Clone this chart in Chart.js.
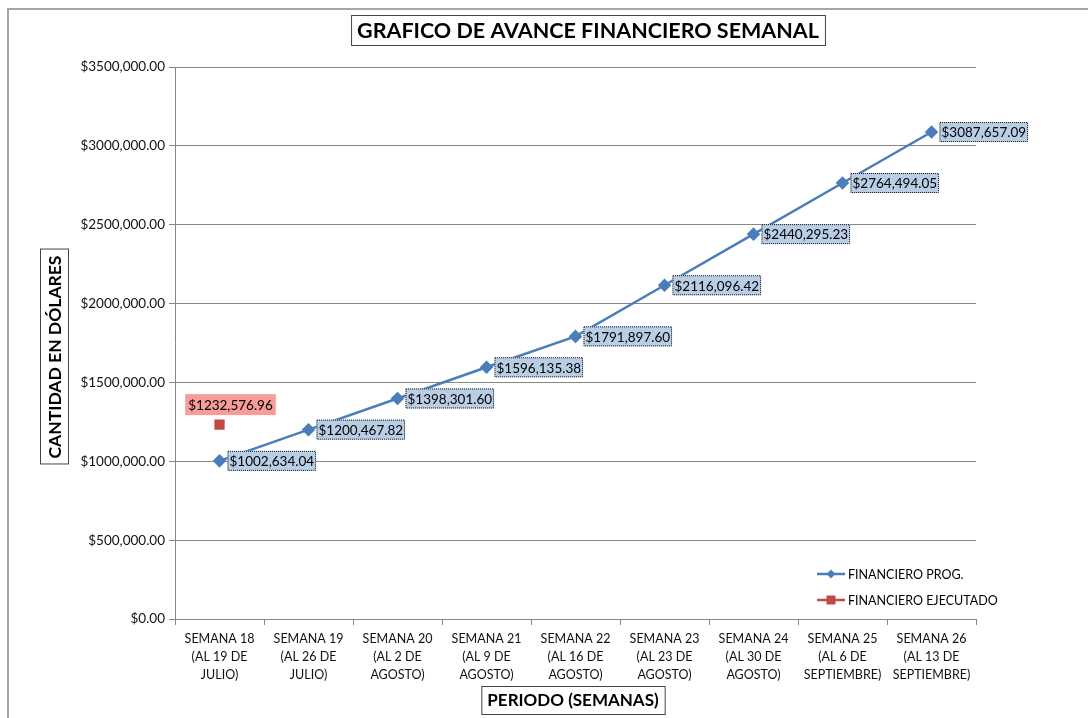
<!DOCTYPE html>
<html>
<head>
<meta charset="utf-8">
<script src="https://cdn.jsdelivr.net/npm/chart.js@4.4.1/dist/chart.umd.min.js"></script>
<style>
  html, body { margin: 0; padding: 0; background: #fff; overflow: hidden; }
  #wrap { position: relative; width: 1088px; height: 718px; overflow: hidden; }
  #frame { position: absolute; left: 7px; top: 8px; width: 1200px; height: 800px; border: 2px solid #a6a6a6; box-sizing: border-box; pointer-events: none; }
</style>
</head>
<body>
<div id="wrap">
  <canvas id="grafico" width="1088" height="718"></canvas>
  <div id="frame"></div>
</div>
<script>
// Datos
const semanas = [
    ['SEMANA 18', '(AL 19 DE', 'JULIO)'],
    ['SEMANA 19', '(AL 26 DE', 'JULIO)'],
    ['SEMANA 20', '(AL 2 DE', 'AGOSTO)'],
    ['SEMANA 21', '(AL 9 DE', 'AGOSTO)'],
    ['SEMANA 22', '(AL 16 DE', 'AGOSTO)'],
    ['SEMANA 23', '(AL 23 DE', 'AGOSTO)'],
    ['SEMANA 24', '(AL 30 DE', 'AGOSTO)'],
    ['SEMANA 25', '(AL 6 DE', 'SEPTIEMBRE)'],
    ['SEMANA 26', '(AL 13 DE', 'SEPTIEMBRE)']
];
const financieroProg = [1002634.04, 1200467.82, 1398301.60, 1596135.38, 1791897.60, 2116096.42, 2440295.23, 2764494.05, 3087657.09];
const financieroEjecutado = [1232576.96, null, null, null, null, null, null, null, null];

const titulo = 'GRAFICO DE AVANCE FINANCIERO SEMANAL';
const tituloY = 'CANTIDAD EN DÓLARES';
const tituloX = 'PERIODO (SEMANAS)';

const FUENTE = 'Lato, "Open Sans", sans-serif';

// formato tipo "$3500,000.00"
function dinero(v) {
    if (v === 0) return '$0.00';
    const miles = Math.floor(v / 1000);
    const resto = v - miles * 1000;
    let r = resto.toFixed(2);
    while (r.length < 6) r = '0' + r;
    return '$' + (miles > 0 ? miles + ',' + r : resto.toFixed(2));
}

function cajaTexto(ctx, txt, x, y, opts) {
    ctx.save();
    ctx.font = opts.font;
    const w = ctx.measureText(txt).width + opts.padX * 2;
    const h = opts.h;
    let bx = opts.align === 'left' ? x : x - w / 2;
    let by = y - h / 2;
    ctx.fillStyle = opts.bg;
    ctx.fillRect(bx, by, w, h);
    if (opts.border) {
        ctx.strokeStyle = opts.border;
        ctx.lineWidth = 1;
        if (opts.dash) ctx.setLineDash(opts.dash);
        ctx.strokeRect(bx + 0.5, by + 0.5, w - 1, h - 1);
    }
    ctx.fillStyle = opts.color || '#000';
    ctx.textBaseline = 'middle';
    ctx.textAlign = 'left';
    ctx.fillText(txt, bx + opts.padX, y + 1);
    ctx.restore();
}

const extras = {
    id: 'extras',
    afterDatasetsDraw(chart) {
        const ctx = chart.ctx;
        // etiquetas de datos azules
        const m0 = chart.getDatasetMeta(0);
        m0.data.forEach((p, i) => {
            cajaTexto(ctx, dinero(financieroProg[i]), p.x + 8, p.y, {
                font: '13.5px ' + FUENTE, padX: 2, h: 20, bg: '#b9cde5', border: '#1a1a1a', dash: [1, 1], align: 'left'
            });
        });
        // etiqueta roja
        const m1 = chart.getDatasetMeta(1);
        m1.data.forEach((p, i) => {
            if (financieroEjecutado[i] == null) return;
            cajaTexto(ctx, dinero(financieroEjecutado[i]), p.x + 11, p.y - 20, {
                font: '13.5px ' + FUENTE, padX: 3, h: 21, bg: '#f79b9b', align: 'center'
            });
        });
        // leyenda
        ctx.save();
        ctx.font = '12.5px ' + FUENTE;
        ctx.textBaseline = 'middle';
        const items = [
            { txt: 'FINANCIERO PROG.', color: '#4a7ebb', forma: 'diamante', y: 574 },
            { txt: 'FINANCIERO EJECUTADO', color: '#be4b48', forma: 'cuadro', y: 600 }
        ];
        items.forEach(it => {
            ctx.strokeStyle = it.color;
            ctx.lineWidth = 2.5;
            ctx.beginPath(); ctx.moveTo(817, it.y); ctx.lineTo(845, it.y); ctx.stroke();
            ctx.fillStyle = it.color;
            ctx.beginPath();
            if (it.forma === 'diamante') {
                ctx.moveTo(831, it.y - 4.5); ctx.lineTo(835.5, it.y); ctx.lineTo(831, it.y + 4.5); ctx.lineTo(826.5, it.y); ctx.closePath();
            } else {
                ctx.rect(826.5, it.y - 4.5, 9, 9);
            }
            ctx.fill();
            ctx.fillStyle = '#000';
            ctx.fillText(it.txt, 848, it.y + 1);
        });
        ctx.restore();
    },
    afterDraw(chart) {
        const ctx = chart.ctx;
        ctx.save();
        ctx.textBaseline = 'middle';
        ctx.textAlign = 'center';
        ctx.strokeStyle = '#444';
        ctx.lineWidth = 1;
        ctx.fillStyle = '#000';
        // titulo principal
        ctx.font = 'bold 21.5px ' + FUENTE;
        let w = ctx.measureText(titulo).width;
        ctx.strokeRect(588 - w / 2 - 6 + 0.5, 15.5, w + 12, 30);
        ctx.fillText(titulo, 588, 31);
        // titulo eje x
        ctx.font = 'bold 17px ' + FUENTE;
        w = ctx.measureText(tituloX).width;
        ctx.strokeRect(573 - w / 2 - 6 + 0.5, 686.5, w + 12, 28);
        ctx.fillText(tituloX, 573, 701);
        // titulo eje y
        ctx.translate(54, 357);
        ctx.rotate(-Math.PI / 2);
        ctx.font = 'bold 17.5px ' + FUENTE;
        w = ctx.measureText(tituloY).width;
        ctx.strokeRect(-w / 2 - 6 + 0.5, -14 + 0.5, w + 12, 28);
        ctx.fillText(tituloY, 0, 1);
        ctx.restore();
    }
};

const grafico = new Chart(document.getElementById('grafico'), {
    type: 'line',
    data: {
        labels: semanas,
        datasets: [
            { label: 'FINANCIERO PROG.', data: financieroProg, borderColor: '#4a7ebb', backgroundColor: '#4a7ebb',
              borderWidth: 2.5, pointStyle: 'rectRot', pointRadius: 5, pointHoverRadius: 5, tension: 0 },
            { label: 'FINANCIERO EJECUTADO', data: financieroEjecutado, borderColor: '#be4b48', backgroundColor: '#be4b48',
              borderWidth: 2.5, pointStyle: 'rect', pointRadius: 5.5, pointHoverRadius: 5.5, showLine: false }
        ]
    },
    options: {
        responsive: false,
        animation: false,
        layout: { padding: { top: 67, bottom: 29, left: 0, right: 112 } },
        plugins: { legend: { display: false }, tooltip: { enabled: false } },
        scales: {
            x: {
                offset: true,
                grid: { offset: true, drawOnChartArea: false, drawTicks: true, tickLength: 6, color: '#868686' },
                border: { color: '#868686' },
                ticks: { color: '#111', font: { family: FUENTE, size: 12.5, lineHeight: 1.45 }, maxRotation: 0, autoSkip: false, padding: 5 },
                afterFit: s => { s.height = 70; }
            },
            y: {
                min: 0, max: 3500000,
                grid: { color: '#868686', tickLength: 6 },
                border: { color: '#868686' },
                ticks: { stepSize: 500000, color: '#111', font: { family: FUENTE, size: 13.5 }, padding: 4, callback: v => dinero(v) },
                afterFit: s => { s.width = 175; }
            }
        }
    },
    plugins: [extras]
});
</script>
</body>
</html>
